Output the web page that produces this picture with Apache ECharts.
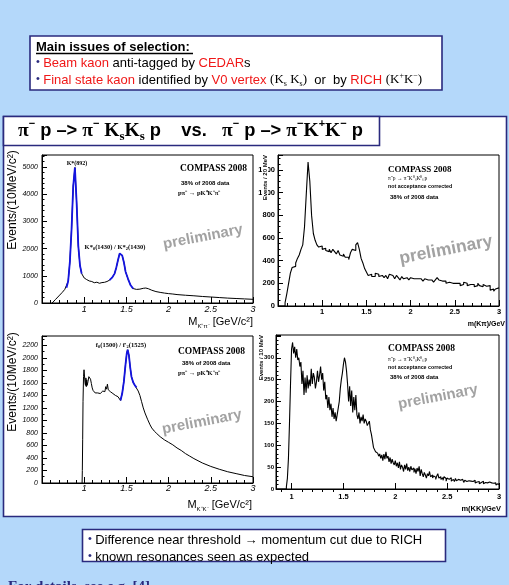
<!DOCTYPE html>
<html>
<head>
<meta charset="utf-8">
<script src="https://cdn.jsdelivr.net/npm/echarts@6.0.0/dist/echarts.min.js"></script>
<style>
html,body{margin:0;padding:0;background:#b4d8fa;overflow:hidden;}
#chart{width:509px;height:585px;}
</style>
</head>
<body>
<div id="chart"></div>
<script>
// ================= DATA =================
const massTickLabels = [1, 1.5, 2, 2.5, 3];
const kkMinorTicks = [0.9,1.1,1.2,1.3,1.4,1.6,1.7,1.8,1.9,2.1,2.2,2.3,2.4,2.6,2.7,2.8,2.9];

// top-left: M(K+ pi-) [GeV/c^2], Events/(10 MeV/c^2)
const kpiChargedCurve = [
 [0.62,0],[0.66,130],[0.70,260],[0.74,390],[0.77,500],[0.79,560],[0.81,800],[0.83,1500],[0.85,2700],
 [0.87,4300],[0.89,4980],[0.91,3700],[0.93,2100],[0.95,1380],[0.97,1080],[1.00,920],[1.03,860],
 [1.06,810],[1.09,790],[1.10,760],[1.11,790],[1.12,745],[1.13,775],[1.14,730],[1.15,765],[1.16,725],
 [1.17,755],[1.18,725],[1.19,750],[1.20,730],[1.21,750],[1.24,760],[1.27,790],[1.30,840],[1.33,930],
 [1.36,1080],[1.38,1300],[1.40,1570],[1.42,1820],[1.435,1875],[1.45,1750],[1.47,1500],[1.49,1150],
 [1.52,880],[1.55,650],[1.58,530],[1.62,500],[1.66,510],[1.70,540],[1.73,550],[1.76,525],[1.80,470],
 [1.85,420],[1.90,390],[1.95,365],[2.00,345],[2.05,330],[2.10,310],[2.20,285],[2.30,265],[2.40,240],
 [2.50,220],[2.60,200],[2.70,180],[2.80,165],[2.90,150],[3.00,135]
];
const kpiChargedFitRanges = [[0.79,0.97],[1.30,1.58]];

// top-right: m(K pi), Events / 20 MeV
const kpiNeutralFirstEdge = 0.50;
const kpiNeutralBinWidth = 0.02;
const kpiNeutralCounts = [
 0,0,0,0,30,110,200,290,340,350,
 380,420,450,500,540,700,990,1270,1100,800,
 640,580,540,520,530,500,510,490,480,500,
 470,500,480,460,490,450,440,460,430,430,
 410,470,500,490,540,560,500,420,380,330,
 300,270,280,260,260,290,280,260,270,260,
 250,270,240,280,270,280,240,270,250,230,
 260,240,250,240,230,250,240,230,240,250,
 240,230,220,240,230,240,230,220,210,230,
 250,230,220,210,220,200,210,220,200,210,
 200,190,200,180,190,210,200,180,190,180,
 190,170,180,200,180,170,190,175,160,180,
 140,150,130,150,160
];

// bottom-left: M(K+K-) [GeV/c^2], Events/(10 MeV/c^2)
const kkChargedCurve = [
 [0.975,0],[0.978,200],[0.982,700],[0.986,1300],[0.992,1700],[0.998,1810],[1.005,1790],[1.01,1600],
 [1.015,1560],[1.02,1680],[1.025,1540],[1.03,1650],[1.035,1560],[1.045,1620],[1.055,1700],[1.065,1730],
 [1.075,1660],[1.085,1590],[1.095,1520],[1.105,1480],[1.115,1450],[1.13,1440],[1.145,1420],[1.16,1440],
 [1.175,1420],[1.19,1430],[1.205,1410],[1.22,1470],[1.235,1500],[1.245,1460],[1.255,1540],[1.265,1500],
 [1.275,1580],[1.285,1490],[1.295,1520],[1.31,1460],[1.325,1450],[1.34,1430],[1.355,1420],[1.37,1400],
 [1.385,1410],[1.40,1380],[1.415,1360],[1.43,1320],[1.45,1430],[1.47,1620],[1.49,1900],[1.505,2080],
 [1.515,2130],[1.53,2040],[1.545,1850],[1.56,1700],[1.58,1610],[1.60,1560],[1.62,1530],[1.64,1470],
 [1.66,1400],[1.68,1300],[1.70,1200],[1.72,1120],[1.75,1020],[1.78,930],[1.80,880],[1.83,830],
 [1.86,790],[1.90,740],[1.95,690],[2.00,650],[2.05,610],[2.10,560],[2.15,520],[2.20,470],[2.25,430],
 [2.30,390],[2.40,320],[2.50,265],[2.60,220],[2.70,180],[2.80,150],[2.90,120],[3.00,100]
];
const kkChargedFitRanges = [[1.43,1.62]];

// bottom-right: m(KK), Events / 10 MeV
const kkNeutralFirstEdge = 0.85;
const kkNeutralBinWidth = 0.01;
const kkNeutralCounts = [
 0,0,0,0,0,0,0,0,0,0,
 5,25,70,150,240,320,335,310,325,300,
 320,295,300,280,290,240,270,215,255,220,
 260,230,250,235,275,240,265,255,230,245,
 270,245,260,280,250,265,225,245,205,215,
 185,210,180,195,165,185,160,175,155,170,
 185,200,230,250,265,285,300,290,270,240,
 200,235,190,225,175,210,180,215,170,160,
 175,150,165,155,170,150,160,155,145,150,
 155,135,125,110,95,90,85,82,85,75,
 80,70,78,65,80,68,85,70,75,62,
 72,58,68,60,55,65,52,60,48,62,
 45,55,50,40,55,45,58,42,50,40,
 52,44,48,38,46,35,48,40,52,30,
 45,35,28,38,32,25,35,30,40,28,
 32,25,30,27,22,30,35,25,28,22,
 26,20,28,24,18,25,22,20,26,18,
 22,20,17,24,19,22,18,20,16,22,
 18,15,20,17,14,19,16,18,14,17,
 15,20,14,16,13,17,12,15,14,18,
 12,15,11,14,13,16,12,14,10,13,
 11,14,9,12,10
];

// labelled y ticks per panel (upper bound of labelled range)
const kpiChargedYLabelTop = 5000;
const kpiNeutralYLabelTop = 1200;
const kkChargedYLabelTop = 2200;
const kkNeutralYLabelTop = 300;

// ================= HELPERS =================
const SANS = '"Liberation Sans", Arial, sans-serif';
const SERIF = '"Liberation Serif", "Times New Roman", serif';
const NAVY = '#2a2a7e';
const RED = '#f01818';
const BLUE = '#1414e0';

function histSteps(first, w, counts) {
  const pts = [];
  counts.forEach((c, i) => {
    const lo = first + i * w;
    pts.push([+lo.toFixed(4), c], [+(lo + w).toFixed(4), c]);
  });
  return pts;
}
function inRange(curve, r) {
  return curve.filter(p => p[0] >= r[0] - 1e-9 && p[0] <= r[1] + 1e-9);
}
function lineSeries(xi, data, color, width, z) {
  return {type:'line', xAxisIndex:xi, yAxisIndex:xi > 3 ? 3 : xi, data, symbol:'none', showSymbol:false,
    lineStyle:{color, width}, z, silent:true, animation:false, clip:true};
}
const plain = v => String(v);
function yAx(grid, max, interval, minorSplit, labelTop, label) {
  return {type:'value', gridIndex:grid, min:0, max, interval,
    axisLine:{show:true, onZero:false, lineStyle:{color:'#000', width:1}},
    axisTick:{show:true, inside:true, length:5, lineStyle:{color:'#000', width:1}},
    minorTick:{show:true, splitNumber:minorSplit, length:2.5, lineStyle:{color:'#000', width:1}},
    splitLine:{show:false}, minorSplitLine:{show:false},
    axisLabel:Object.assign({show:true, showMaxLabel:false, showMinLabel:true, color:'#000',
      formatter:v => (v <= labelTop + 1e-9 ? String(v) : '')}, label)};
}
function xAx(grid, min, label) {
  return {type:'value', gridIndex:grid, min, max:3, interval:0.5,
    axisLine:{show:true, onZero:false, lineStyle:{color:'#000', width:1}},
    axisTick:{show:true, inside:true, length:6, lineStyle:{color:'#000', width:1}},
    minorTick:{show:true, splitNumber:5, length:3, lineStyle:{color:'#000', width:1}},
    splitLine:{show:false}, minorSplitLine:{show:false},
    axisLabel:Object.assign({show:true, showMinLabel:false, showMaxLabel:true, color:'#000', formatter:plain}, label)};
}
function txt(x, y, text, style, rot) {
  return {type:'text', x, y, rotation:rot || 0, z:100, silent:true,
    style:Object.assign({text, fill:'#000', align:'left', verticalAlign:'middle',
      fontFamily:SANS, fontSize:12}, style)};
}

const italicLbl = (size, margin) => ({fontFamily:SANS, fontStyle:'italic', fontSize:size, margin});
const boldLbl = (size, margin) => ({fontFamily:SANS, fontWeight:'bold', fontSize:size, margin});

const gridBase = {show:true, borderColor:'#000', borderWidth:1, backgroundColor:'transparent', containLabel:false};

const smallRich = {
  t:{fontFamily:SERIF, fontWeight:'bold', fontSize:6.5, lineHeight:9},
  s:{fontFamily:SERIF, fontWeight:'bold', fontSize:4.5, lineHeight:5, verticalAlign:'bottom'},
  u:{fontFamily:SERIF, fontWeight:'bold', fontSize:4.5, lineHeight:5, verticalAlign:'top'}
};
const bulletRich = {fill:NAVY, fontSize:11, fontFamily:SANS, padding:[0,0,3,0]};

// ================= GRAPHICS =================
const graphics = [
  // boxes
  {type:'rect', z:-10, silent:true, shape:{x:30, y:36, width:412, height:54}, style:{fill:'#fff', stroke:NAVY, lineWidth:1.6}},
  {type:'rect', z:-10, silent:true, shape:{x:3.5, y:116.5, width:503, height:400}, style:{fill:'#fff', stroke:NAVY, lineWidth:1.6}},
  {type:'rect', z:-9, silent:true, shape:{x:3.5, y:116.5, width:376, height:29}, style:{fill:'#fff', stroke:NAVY, lineWidth:1.6}},
  {type:'rect', z:-10, silent:true, shape:{x:82.5, y:529.5, width:363, height:32}, style:{fill:'#fff', stroke:NAVY, lineWidth:1.6}},

  // top box text
  txt(36, 47, 'Main issues of selection:', {fontWeight:'bold', fontSize:13}),
  {type:'line', z:100, silent:true, shape:{x1:36, y1:53.5, x2:193, y2:53.5}, style:{stroke:'#000', lineWidth:1.3}},
  txt(36, 63, '{b|•} {r|Beam kaon}{k| anti-tagged by }{r|CEDAR}{k|s}', {rich:{
    b:bulletRich,
    r:{fill:RED, fontSize:13, fontFamily:SANS},
    k:{fill:'#000', fontSize:13, fontFamily:SANS}}}),
  txt(36, 80, '{b|•} {r|Final state kaon}{k| identified by }{r|V0 vertex}{k| }{t|(K}{ts|s}{t| K}{ts|s}{t|)}{k|  or  by }{r|RICH}{k| }{t|(K}{tu|+}{t|K}{tu|−}{t|)}', {rich:{
    b:bulletRich,
    r:{fill:RED, fontSize:13, fontFamily:SANS, lineHeight:16},
    k:{fill:'#000', fontSize:13, fontFamily:SANS, lineHeight:16},
    t:{fill:'#000', fontSize:13, fontFamily:SERIF, lineHeight:16},
    ts:{fill:'#000', fontSize:8, fontFamily:SERIF, lineHeight:8, verticalAlign:'bottom'},
    tu:{fill:'#000', fontSize:8, fontFamily:SERIF, lineHeight:8, verticalAlign:'top'}}}),

  // title box
  txt(18, 131, '{g|π}{u|−}{a| p –> }{g|π}{u|−}{g| K}{s|s}{g|K}{s|s}{a| p    vs.   }{g|π}{u|−}{a| p –> }{g|π}{u|−}{g|K}{u|+}{g|K}{u|−}{a| p}', {rich:{
    g:{fontFamily:SERIF, fontWeight:'bold', fontSize:19.5, lineHeight:25, fill:'#000'},
    a:{fontFamily:SANS, fontWeight:'bold', fontSize:18.3, lineHeight:25, fill:'#000'},
    u:{fontFamily:SANS, fontWeight:'bold', fontSize:11, lineHeight:13, verticalAlign:'top', fill:'#000'},
    s:{fontFamily:SERIF, fontWeight:'bold', fontSize:13, lineHeight:12, verticalAlign:'bottom', fill:'#000'}}}),

  // bottom box text
  txt(88, 540, '{b|•} {k|Difference near threshold → momentum cut due to RICH}', {rich:{
    b:bulletRich, k:{fill:'#000', fontSize:13, fontFamily:SANS}}}),
  txt(88, 557, '{b|•} {k|known resonances seen as expected}', {rich:{
    b:bulletRich, k:{fill:'#000', fontSize:13, fontFamily:SANS}}}),
  txt(8, 580, 'For details, see e.g. [4]', {fill:NAVY, fontFamily:SERIF, fontWeight:'bold', fontSize:15, verticalAlign:'top'}),

  // ---- plot 1 (top-left) ----
  txt(13, 200, 'Events/(10MeV/c²)', {align:'center', fontSize:12}, Math.PI/2),
  txt(253, 322, '{m|M}{s|K⁺π⁻}{m| [GeV/c²]}', {align:'right', rich:{
    m:{fontFamily:SANS, fontSize:11, lineHeight:14}, s:{fontFamily:SANS, fontSize:6, lineHeight:7, verticalAlign:'bottom'}}}),
  txt(77, 163, 'K*(892)', {align:'center', fontFamily:SERIF, fontWeight:'bold', fontSize:6}),
  txt(115, 247, '{t|K*}{s|0}{t|(1430) / K*}{s|2}{t|(1430)}', {align:'center', rich:smallRich}),
  txt(180, 169, 'COMPASS 2008', {fontFamily:SERIF, fontWeight:'bold', fontSize:9.5}),
  txt(181, 183, '38% of 2008 data', {fontWeight:'bold', fontSize:6}),
  txt(178, 193, 'pπ⁻ → pK⁺K⁻π⁻', {fontFamily:SERIF, fontWeight:'bold', fontSize:6.5}),
  txt(203, 237, 'preliminary', {align:'center', fontWeight:'bold', fontSize:15, fill:'#a2a2a2'}, 0.19),

  // ---- plot 2 (top-right) ----
  txt(265, 155, 'Events / 20 MeV', {align:'right', fontWeight:'bold', fontSize:6, backgroundColor:'#fff'}, Math.PI/2),
  txt(505, 324, 'm(Kπ)/GeV', {align:'right', fontWeight:'bold', fontSize:7}),
  txt(388, 170, 'COMPASS 2008', {fontFamily:SERIF, fontWeight:'bold', fontSize:9}),
  txt(388, 179, 'π⁻p → π⁻K⁰ₛK⁰ₛp', {fontFamily:SERIF, fontSize:5.5}),
  txt(388, 187, 'not acceptance corrected', {fontWeight:'bold', fontSize:5.3}),
  txt(390, 197, '38% of 2008 data', {fontWeight:'bold', fontSize:6}),
  txt(446, 250, 'preliminary', {align:'center', fontWeight:'bold', fontSize:17.5, fill:'#a2a2a2'}, 0.19),

  // ---- plot 3 (bottom-left) ----
  txt(13, 382, 'Events/(10MeV/c²)', {align:'center', fontSize:12}, Math.PI/2),
  txt(252, 505, '{m|M}{s|K⁺K⁻}{m| [GeV/c²]}', {align:'right', rich:{
    m:{fontFamily:SANS, fontSize:11, lineHeight:14}, s:{fontFamily:SANS, fontSize:6, lineHeight:7, verticalAlign:'bottom'}}}),
  txt(121, 345, "{t|f}{s|0}{t|(1500) / f'}{s|2}{t|(1525)}", {align:'center', rich:smallRich}),
  txt(178, 352, 'COMPASS 2008', {fontFamily:SERIF, fontWeight:'bold', fontSize:9.5}),
  txt(182, 363, '38% of 2008 data', {fontWeight:'bold', fontSize:6}),
  txt(178, 373, 'pπ⁻ → pK⁺K⁻π⁻', {fontFamily:SERIF, fontWeight:'bold', fontSize:6.5}),
  txt(202, 422, 'preliminary', {align:'center', fontWeight:'bold', fontSize:15, fill:'#a2a2a2'}, 0.19),

  // ---- plot 4 (bottom-right) ----
  txt(261, 335, 'Events / 10 MeV', {align:'right', fontWeight:'bold', fontSize:6}, Math.PI/2),
  txt(501, 509, 'm(KK)/GeV', {align:'right', fontWeight:'bold', fontSize:7.5}),
  txt(388, 349, 'COMPASS 2008', {fontFamily:SERIF, fontWeight:'bold', fontSize:9.5}),
  txt(388, 360, 'π⁻p → π⁻K⁰ₛK⁰ₛp', {fontFamily:SERIF, fontSize:5.5}),
  txt(388, 368, 'not acceptance corrected', {fontWeight:'bold', fontSize:5.3}),
  txt(390, 377, '38% of 2008 data', {fontWeight:'bold', fontSize:6}),
  txt(438, 397, 'preliminary', {align:'center', fontWeight:'bold', fontSize:15, fill:'#a2a2a2'}, 0.19)
];

// ================= CHART =================
const chart = echarts.init(document.getElementById('chart'), null, {renderer:'canvas', width:509, height:585});

const kkMainX = {type:'value', gridIndex:3, min:0.85, max:3,
  axisLine:{show:true, onZero:false, lineStyle:{color:'#000', width:1}},
  axisTick:{show:true, inside:true, length:6, customValues:massTickLabels, lineStyle:{color:'#000', width:1}},
  splitLine:{show:false},
  axisLabel:{show:true, customValues:massTickLabels, color:'#000', fontFamily:SANS, fontWeight:'bold', fontSize:7.5, margin:4, formatter:plain}};
const kkMinorX = {type:'value', gridIndex:3, min:0.85, max:3,
  axisLine:{show:false},
  axisTick:{show:true, inside:true, length:3, customValues:kkMinorTicks, lineStyle:{color:'#000', width:1}},
  splitLine:{show:false}, axisLabel:{show:false}};

const series = [
  lineSeries(0, kpiChargedCurve, '#000', 1, 2),
  ...kpiChargedFitRanges.map(r => lineSeries(0, inRange(kpiChargedCurve, r), BLUE, 1.8, 3)),
  lineSeries(1, histSteps(kpiNeutralFirstEdge, kpiNeutralBinWidth, kpiNeutralCounts), '#000', 1.1, 2),
  lineSeries(2, kkChargedCurve, '#000', 1, 2),
  ...kkChargedFitRanges.map(r => lineSeries(2, inRange(kkChargedCurve, r), BLUE, 1.8, 3)),
  lineSeries(3, histSteps(kkNeutralFirstEdge, kkNeutralBinWidth, kkNeutralCounts), '#000', 1.1, 2)
];

chart.setOption({
  backgroundColor:'#b4d8fa',
  animation:false,
  grid:[
    Object.assign({left:42, top:155, width:211, height:148}, gridBase),
    Object.assign({left:278, top:155, width:221, height:151}, gridBase),
    Object.assign({left:42, top:336, width:211, height:147}, gridBase),
    Object.assign({left:276, top:335, width:223, height:154}, gridBase)
  ],
  xAxis:[
    xAx(0, 0.5, italicLbl(9, 2)),
    xAx(1, 0.5, boldLbl(7.5, 2)),
    xAx(2, 0.5, italicLbl(9, 1)),
    kkMainX,
    kkMinorX
  ],
  yAxis:[
    yAx(0, 5440, 1000, 5, kpiChargedYLabelTop, italicLbl(7, 4)),
    yAx(1, 1333, 200, 4, kpiNeutralYLabelTop, boldLbl(7.5, 3)),
    yAx(2, 2350, 200, 2, kkChargedYLabelTop, italicLbl(7, 4)),
    yAx(3, 352, 50, 5, kkNeutralYLabelTop, boldLbl(6, 2))
  ],
  series,
  graphic:graphics
});
</script>
</body>
</html>
